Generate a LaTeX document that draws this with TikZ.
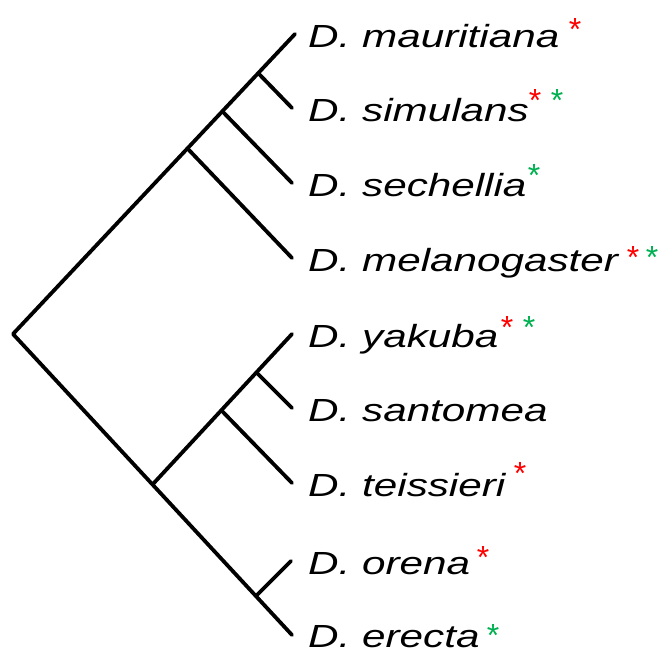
\documentclass[tikz,border=0pt]{standalone}
\usepackage{fontspec}
\usepackage{graphicx}
\setmainfont{Liberation Sans}
\definecolor{starred}{RGB}{255,0,0}
\definecolor{stargreen}{RGB}{0,176,80}
\tikzset{
  branch/.style={line width=3.8pt, line cap=round, line join=round},
  taxon/.style={anchor=base west, inner sep=0pt, font=\fontsize{32}{38}\selectfont\itshape},
  star/.style={anchor=base, inner sep=0pt, font=\fontsize{32}{38}\selectfont},
  redstar/.style={star, text=starred},
  greenstar/.style={star, text=stargreen},
}
\newcommand{\tx}[1]{\scalebox{1.32}[1]{#1}}
\newcommand{\st}{\raisebox{-0.35em}{*}}
\begin{document}
\begin{tikzpicture}[x=1pt,y=-1pt]
\useasboundingbox (0,0) rectangle (660,653);
% tips
\coordinate (t1) at (295,34);
\coordinate (t2) at (292,108);
\coordinate (t3) at (292,183);
\coordinate (t4) at (292,258);
\coordinate (t5) at (292,334);
\coordinate (t6) at (292,408);
\coordinate (t7) at (292,483);
\coordinate (t8) at (291,561);
\coordinate (t9) at (292,635);
% internal nodes
\coordinate (root) at (13,334);
\coordinate (n1) at (188,149);
\coordinate (n2) at (223,112);
\coordinate (n3) at (259,74);
\coordinate (m0) at (153,484);
\coordinate (mb) at (222,411);
\coordinate (ma) at (257,373);
\coordinate (mc) at (257,595);
% branches
\draw[branch] (t1) -- (root) -- (t9);
\draw[branch] (n1) -- (t4);
\draw[branch] (n2) -- (t3);
\draw[branch] (n3) -- (t2);
\draw[branch] (m0) -- (t5);
\draw[branch] (mb) -- (t7);
\draw[branch] (ma) -- (t6);
\draw[branch] (mc) -- (t8);
% labels
\node[taxon] (l1) at (308,47) {\tx{D. mauritiana}};
\node[taxon] (l2) at (308,121) {\tx{D. simulans}};
\node[taxon] (l3) at (308,196) {\tx{D. sechellia}};
\node[taxon] (l4) at (308,271) {\tx{D. melanogaster}};
\node[taxon] (l5) at (308,347) {\tx{D. yakuba}};
\node[taxon] (l6) at (308,421) {\tx{D. santomea}};
\node[taxon] (l7) at (308,496) {\tx{D. teissieri}};
\node[taxon] (l8) at (308,574) {\tx{D. orena}};
\node[taxon] (l9) at (308,647) {\tx{D. erecta}};
% stars
\node[redstar] (s1r) at (575,29) {\st};
\node[redstar] (s2r) at (535,100) {\st};
\node[greenstar] (s2g) at (557,100) {\st};
\node[greenstar] (s3g) at (534,175) {\st};
\node[redstar] (s4r) at (633,257) {\st};
\node[greenstar] (s4g) at (652,257) {\st};
\node[redstar] (s5r) at (507,327) {\st};
\node[greenstar] (s5g) at (529,327) {\st};
\node[redstar] (s7r) at (520,473) {\st};
\node[redstar] (s8r) at (483,557) {\st};
\node[greenstar] (s9g) at (493,635) {\st};
\end{tikzpicture}
\end{document}
